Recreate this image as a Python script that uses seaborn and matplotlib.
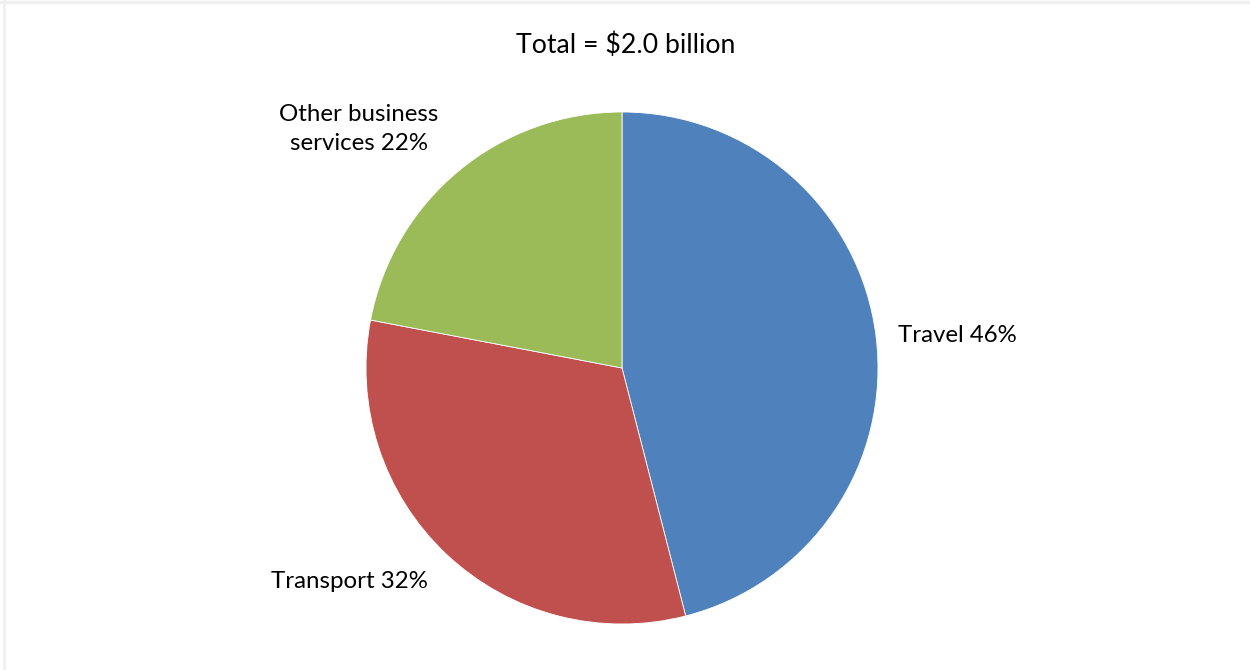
import matplotlib
matplotlib.use("Agg")
import matplotlib.pyplot as plt
import seaborn as sns
from matplotlib.lines import Line2D

categories = ["Travel", "Transport", "Other business services"]
shares = [46, 32, 22]
colors = ["#4F81BD", "#C0504D", "#9BBB59"]
title = "Total = $2.0 billion"

sns.set_theme(style="white")
plt.rcParams["font.family"] = ["Lato", "DejaVu Sans"]

W, H = 1250, 670
fig = plt.figure(figsize=(W / 100, H / 100), dpi=100)
fig.patch.set_facecolor("white")

# pie placement: centre (622, 368) px, radius 256 px
cx, cy, r = 622, 368, 256
ax = fig.add_axes([(cx - r) / W, (H - cy - r) / H, 2 * r / W, 2 * r / H])
ax.pie(shares, colors=colors, startangle=90, counterclock=False,
       radius=1.0, wedgeprops=dict(edgecolor="white", linewidth=0.6))
ax.set_xlim(-1, 1)
ax.set_ylim(-1, 1)
ax.set_aspect("equal")
ax.axis("off")

def to_data(px, py):
    return (px - cx) / r, (cy - py) / r

label_pos = {
    "Travel": ((898, 335), "left"),
    "Transport": ((349, 582), "center"),
    "Other business services": ((359, 129), "center"),
}
for cat, val in zip(categories, shares):
    (px, py), ha = label_pos[cat]
    text = f"{cat} {val}%"
    spacing = 1.2
    if cat == "Other business services":
        text = f"Other business\nservices {val}%"
        spacing = 1.48
    x, y = to_data(px, py)
    ax.text(x, y, text, ha=ha, va="center", fontsize=17.3, color="black",
            linespacing=spacing, clip_on=False)

fig.text(626 / W, 1 - 45 / H, title, ha="center", va="center",
         fontsize=19.2, color="black")

# thin grey frame along the top and left edges
fig.add_artist(Line2D([0, 1], [1 - 1.5 / H, 1 - 1.5 / H], transform=fig.transFigure,
                      color="#EFEFEF", linewidth=2.5))
fig.add_artist(Line2D([4 / W, 4 / W], [0, 1], transform=fig.transFigure,
                      color="#EFEFEF", linewidth=1.8))

fig.savefig("out.png", dpi=100, facecolor="white")
